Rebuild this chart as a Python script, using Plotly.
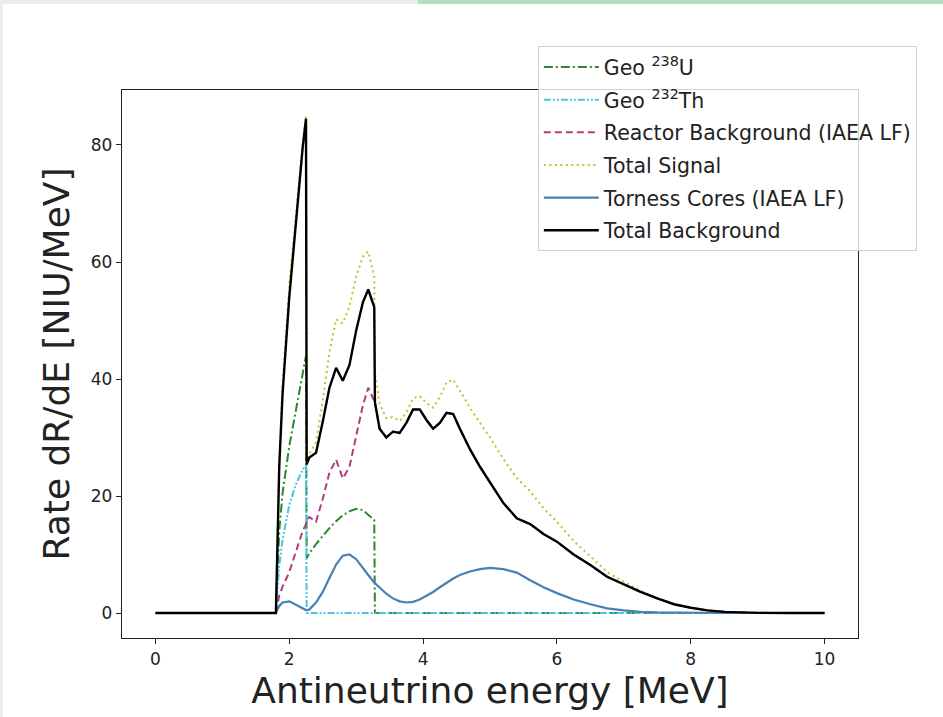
import plotly.graph_objects as go

# Antineutrino energy grid [MeV]
energy = [0.0, 1.8, 1.85, 1.9, 2.0, 2.1, 2.2, 2.25, 2.26, 2.3, 2.4, 2.5, 2.6, 2.7, 2.8, 2.9,
          3.0, 3.1, 3.18, 3.27, 3.28, 3.35, 3.45, 3.55, 3.65, 3.75, 3.85, 3.95, 4.05, 4.15,
          4.25, 4.35, 4.45, 4.55, 4.7, 4.85, 5.0, 5.2, 5.4, 5.6, 5.8, 6.0, 6.25, 6.5, 6.75,
          7.0, 7.25, 7.5, 7.75, 8.0, 8.25, 8.5, 8.75, 9.0, 9.5, 10.0]

# Rate dR/dE [NIU/MeV] for each component
geo_u238 = [0, 0, 14, 20.5, 28.5, 34.5, 41, 44, 9.4, 10.2, 11.8, 13.2, 14.5, 15.7, 16.7, 17.4,
            17.8, 17.6, 16.8, 15.9, 0, 0, 0, 0, 0, 0, 0, 0, 0, 0,
            0, 0, 0, 0, 0, 0, 0, 0, 0, 0, 0, 0, 0, 0, 0,
            0, 0, 0, 0, 0, 0, 0, 0, 0, 0, 0]

geo_th232 = [0, 0, 8, 12.5, 18.5, 22, 24.5, 25.3, 0, 0, 0, 0, 0, 0, 0, 0,
             0, 0, 0, 0, 0, 0, 0, 0, 0, 0, 0, 0, 0, 0,
             0, 0, 0, 0, 0, 0, 0, 0, 0, 0, 0, 0, 0, 0, 0,
             0, 0, 0, 0, 0, 0, 0, 0, 0, 0, 0]

reactor_bg = [0, 0, 3, 4.5, 7, 10.5, 14, 15.2, 16, 16.4, 15.6, 19.5, 24, 26.2, 23, 25,
              30.5, 35.5, 38.5, 36.4, 36, 31.5, 30.0, 31.0, 30.8, 32.5, 34.8, 34.8, 33.0, 31.5,
              32.5, 34.2, 34.0, 31.5, 28.0, 25.0, 22.3, 18.8, 16.2, 15.2, 13.5, 12.2, 10.0, 8.2, 6.2,
              4.9, 3.6, 2.5, 1.5, 0.9, 0.45, 0.2, 0.08, 0.03, 0.0, 0.0]

total_signal = [0, 0, 26.2, 39.3, 56, 68.4, 80.2, 85.0, 25.9, 27.2, 29.2, 36.3, 44.5, 50.2, 49.5, 52.4,
                57.5, 60.9, 61.8, 57.5, 41.1, 35.8, 33.3, 33.5, 32.8, 34.3, 36.7, 37.1, 35.9, 35.1,
                36.9, 39.4, 39.9, 38.0, 35.1, 32.5, 30.0, 26.3, 23.1, 20.8, 17.9, 15.6, 12.3, 9.7, 7.0,
                5.35, 3.8, 2.6, 1.55, 0.92, 0.45, 0.2, 0.08, 0.03, 0.0, 0.0]

torness = [0, 0, 1.2, 1.8, 2.0, 1.4, 0.7, 0.5, 0.5, 0.6, 1.8, 3.6, 6.0, 8.3, 9.8, 10.0,
           9.2, 7.8, 6.5, 5.2, 5.1, 4.3, 3.3, 2.5, 2.0, 1.8, 1.9, 2.3, 2.9, 3.6,
           4.4, 5.2, 5.9, 6.5, 7.1, 7.5, 7.7, 7.5, 6.9, 5.6, 4.4, 3.4, 2.3, 1.5, 0.8,
           0.45, 0.2, 0.1, 0.05, 0.02, 0, 0, 0, 0, 0, 0]

total_bg = [0, 0, 25, 37.5, 54, 67, 79.5, 84.5, 25.4, 26.6, 27.4, 32.7, 38.5, 41.9, 39.7, 42.4,
            48.3, 53.1, 55.3, 52.3, 36, 31.5, 30.0, 31.0, 30.8, 32.5, 34.8, 34.8, 33.0, 31.5,
            32.5, 34.2, 34.0, 31.5, 28.0, 25.0, 22.3, 18.8, 16.2, 15.2, 13.5, 12.2, 10.0, 8.2, 6.2,
            4.9, 3.6, 2.5, 1.5, 0.9, 0.45, 0.2, 0.08, 0.03, 0.0, 0.0]

x_ticks = [0, 2, 4, 6, 8, 10]
y_ticks = [0, 20, 40, 60, 80]

series = [
    ("Geo <sup>238</sup>U", geo_u238, "#2a8a2a", "9px,3px,2px,3px", 2),
    ("Geo <sup>232</sup>Th", geo_th232, "#4cc3e2", "7px,2px,2px,2px,2px,2px", 2),
    ("Reactor Background (IAEA LF)", reactor_bg, "#b23c80", "7px,4px", 2),
    ("Total Signal", total_signal, "#c4bf2c", "2px,3.5px", 2),
    ("Torness Cores (IAEA LF)", torness, "#4a7fb2", "solid", 2.2),
    ("Total Background", total_bg, "#000000", "solid", 2.4),
]

fig = go.Figure()
for i, (name, vals, color, dash, width) in enumerate(series):
    fig.add_trace(go.Scatter(
        x=energy, y=vals, mode="lines", name=name, legendgroup=f"g{i}",
        line=dict(color=color, dash=dash, width=width),
    ))

font_family = "DejaVu Sans"
fig.update_layout(
    width=943, height=717,
    margin=dict(l=122, r=85, t=90, b=79),
    paper_bgcolor="white", plot_bgcolor="white",
    font=dict(family=font_family, color="#222222"),
    showlegend=True,
    legend=dict(
        x=0.565, y=1.08, xanchor="left", yanchor="top",
        bgcolor="rgba(255,255,255,0.8)", bordercolor="#d0d0d0", borderwidth=1,
        font=dict(size=20.5, family=font_family, color="#222222"),
        itemwidth=55, tracegroupgap=3,
    ),
    xaxis=dict(
        range=[-0.5, 10.5], tickvals=x_ticks, ticktext=[str(v) for v in x_ticks],
        showline=True, mirror=True, linecolor="#222222", linewidth=1.3,
        ticks="outside", ticklen=5, tickwidth=1.2, tickcolor="#222222",
        showgrid=False, zeroline=False,
        tickfont=dict(size=17),
        title=dict(text="Antineutrino energy [MeV]", font=dict(size=36), standoff=10),
    ),
    yaxis=dict(
        range=[-4.27, 89.4], tickvals=y_ticks, ticktext=[str(v) for v in y_ticks],
        showline=True, mirror=True, linecolor="#222222", linewidth=1.3,
        ticks="outside", ticklen=5, tickwidth=1.2, tickcolor="#222222",
        showgrid=False, zeroline=False,
        tickfont=dict(size=17),
        title=dict(text="Rate dR/dE [NIU/MeV]", font=dict(size=36), standoff=10),
    ),
)

# page edges around the figure
fig.add_shape(type="rect", xref="paper", yref="paper", layer="below",
              x0=-0.17, x1=-0.1617, y0=-0.2, y1=1.2,
              line=dict(width=0), fillcolor="#ececec")
fig.add_shape(type="rect", xref="paper", yref="paper", layer="below",
              x0=-0.17, x1=0.402, y0=1.157, y1=1.2,
              line=dict(width=0), fillcolor="#ececec")
fig.add_shape(type="rect", xref="paper", yref="paper", layer="below",
              x0=0.402, x1=1.2, y0=1.157, y1=1.2,
              line=dict(width=0), fillcolor="#b4dfc2")

fig.write_html("out.html")
